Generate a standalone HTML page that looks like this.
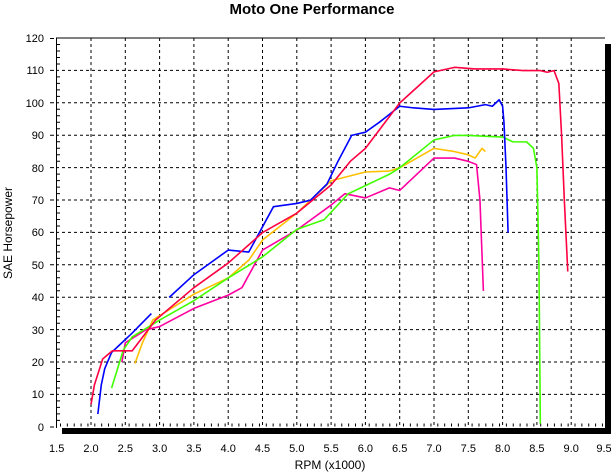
<!DOCTYPE html>
<html><head><meta charset="utf-8"><style>
html,body{margin:0;padding:0;background:#fff;width:611px;height:473px;overflow:hidden}
svg{display:block}
text{font-family:"Liberation Sans",Arial,sans-serif;font-size:11px;fill:#000}
.c{fill:none;stroke-width:1.6;vector-effect:non-scaling-stroke;stroke-linejoin:round}
</style></head><body>
<svg width="611" height="473" viewBox="0 0 611 473">
<text x="312" y="14" text-anchor="middle" style="font-size:15px;font-weight:bold">Moto One Performance</text>
<g stroke="#000" stroke-width="1" stroke-dasharray="3,3">
<line x1="56" y1="70.4" x2="605" y2="70.4"/><line x1="56" y1="102.8" x2="605" y2="102.8"/>
<line x1="56" y1="135.2" x2="605" y2="135.2"/><line x1="56" y1="167.6" x2="605" y2="167.6"/>
<line x1="56" y1="200" x2="605" y2="200"/><line x1="56" y1="232.4" x2="605" y2="232.4"/>
<line x1="56" y1="264.8" x2="605" y2="264.8"/><line x1="56" y1="297.2" x2="605" y2="297.2"/>
<line x1="56" y1="329.6" x2="605" y2="329.6"/><line x1="56" y1="362" x2="605" y2="362"/>
<line x1="56" y1="394.4" x2="605" y2="394.4"/>
<line x1="91" y1="38" x2="91" y2="427"/><line x1="125.3" y1="38" x2="125.3" y2="427"/>
<line x1="159.6" y1="38" x2="159.6" y2="427"/><line x1="193.9" y1="38" x2="193.9" y2="427"/>
<line x1="228.2" y1="38" x2="228.2" y2="427"/><line x1="262.5" y1="38" x2="262.5" y2="427"/>
<line x1="296.8" y1="38" x2="296.8" y2="427"/><line x1="331.1" y1="38" x2="331.1" y2="427"/>
<line x1="365.4" y1="38" x2="365.4" y2="427"/><line x1="399.7" y1="38" x2="399.7" y2="427"/>
<line x1="434" y1="38" x2="434" y2="427"/><line x1="468.3" y1="38" x2="468.3" y2="427"/>
<line x1="502.6" y1="38" x2="502.6" y2="427"/><line x1="536.9" y1="38" x2="536.9" y2="427"/>
<line x1="571.2" y1="38" x2="571.2" y2="427"/>
</g>
<g stroke="#000" stroke-width="1">
<line x1="56" y1="38" x2="605" y2="38"/><line x1="56.5" y1="38" x2="56.5" y2="428"/>
<path d="M56 44.5h4M56 51h4M56 57.5h4M56 64h4M56 76.9h4M56 83.4h4M56 89.9h4M56 96.4h4M56 109.3h4M56 115.8h4M56 122.3h4M56 128.8h4M56 141.7h4M56 148.2h4M56 154.7h4M56 161.2h4M56 174.1h4M56 180.6h4M56 187.1h4M56 193.6h4M56 206.5h4M56 213h4M56 219.5h4M56 226h4M56 238.9h4M56 245.4h4M56 251.9h4M56 258.4h4M56 271.3h4M56 277.8h4M56 284.3h4M56 290.8h4M56 303.7h4M56 310.2h4M56 316.7h4M56 323.2h4M56 336.1h4M56 342.6h4M56 349.1h4M56 355.6h4M56 368.5h4M56 375h4M56 381.5h4M56 388h4M56 400.9h4M56 407.4h4M56 413.9h4M56 420.4h4"/>
<path d="M50 38.5h4M50 70.4h4M50 102.8h4M50 135.2h4M50 167.6h4M50 200h4M50 232.4h4M50 264.8h4M50 297.2h4M50 329.6h4M50 362h4M50 394.4h4M50 427h4"/>
</g>
<line x1="60" y1="425" x2="605" y2="425" stroke="#000" stroke-dasharray="1,5.86" stroke-width="3"/>
<rect x="62" y="428" width="549" height="6" fill="#000"/>
<rect x="605" y="44" width="6" height="390" fill="#000"/>
<g text-anchor="end">
<text x="44" y="42">120</text><text x="44" y="74">110</text><text x="44" y="107">100</text>
<text x="44" y="139">90</text><text x="44" y="172">80</text><text x="44" y="204">70</text>
<text x="44" y="236">60</text><text x="44" y="269">50</text><text x="44" y="301">40</text>
<text x="44" y="334">30</text><text x="44" y="366">20</text><text x="44" y="398">10</text>
<text x="44" y="431">0</text></g>
<g text-anchor="middle">
<text x="56.7" y="452">1.5</text><text x="91" y="452">2.0</text><text x="125.3" y="452">2.5</text>
<text x="159.6" y="452">3.0</text><text x="193.9" y="452">3.5</text><text x="228.2" y="452">4.0</text>
<text x="262.5" y="452">4.5</text><text x="296.8" y="452">5.0</text><text x="331.1" y="452">5.5</text>
<text x="365.4" y="452">6.0</text><text x="399.7" y="452">6.5</text><text x="434" y="452">7.0</text>
<text x="468.3" y="452">7.5</text><text x="502.6" y="452">8.0</text><text x="536.9" y="452">8.5</text>
<text x="571.2" y="452">9.0</text><text x="604" y="452">9.5</text>
<text x="330" y="469" style="font-size:12px">RPM (x1000)</text>
<text transform="translate(12,233) rotate(-90)" style="font-size:12px">SAE Horsepower</text>
</g>
<g transform="translate(56.7,427) scale(68.6,-3.24) translate(-1.5,0)">
<polyline class="c" stroke="#ff00a0" points="2.45,20 2.5,26 2.8,30 3,31 3.5,36.6 4,40.7 4.2,43 4.5,54.6 5,60.8 5.5,68.5 5.7,72 6,70.7 6.35,73.8 6.5,73 7,83 7.3,83 7.5,82 7.62,81 7.67,70 7.72,42"/>
<polyline class="c" stroke="#ffc000" points="2.64,19.6 2.75,26 2.9,33 3.5,41 4,46 4.3,51.5 4.5,57.7 5,66 5.5,76 6,78.7 6.35,79 6.5,80 7,86 7.3,85 7.5,84 7.6,83 7.7,86 7.75,85"/>
<polyline class="c" stroke="#40ff00" points="2.3,12 2.47,23.7 2.6,27.8 3,33 3.5,39 4,46 4.5,52.5 5,61 5.4,64 5.75,72 6.35,78 6.5,80 7,88.6 7.3,90 7.5,90 8,89.5 8.15,88 8.35,88 8.45,86 8.5,80 8.53,50 8.55,1"/>
<polyline class="c" stroke="#0000ff" points="2.1,4 2.15,13 2.2,18 2.3,23 2.4,25 2.6,29 2.88,35"/>
<polyline class="c" stroke="#0000ff" points="3.14,40 3.5,47 4,54.6 4.3,54 4.66,68 5,69 5.2,70 5.44,75 5.6,82 5.8,90 6,91 6.2,94 6.5,99 6.7,98.5 7,98 7.5,98.5 7.75,99.5 7.85,99 7.95,101 8,99 8.02,94 8.05,80 8.08,60"/>
<polyline class="c" stroke="#ff0040" points="2,7 2.05,13 2.17,21 2.31,23.5 2.6,23.5 2.94,33 3.5,43 4,50.6 4.5,60 5,66 5.5,74.7 5.78,82 6,86 6.5,100 7,109.6 7.3,111 7.6,110.5 8,110.5 8.3,110 8.55,110 8.65,109.5 8.75,110 8.82,106 8.86,90 8.9,70 8.95,48"/>
</g>
</svg>
</body></html>
